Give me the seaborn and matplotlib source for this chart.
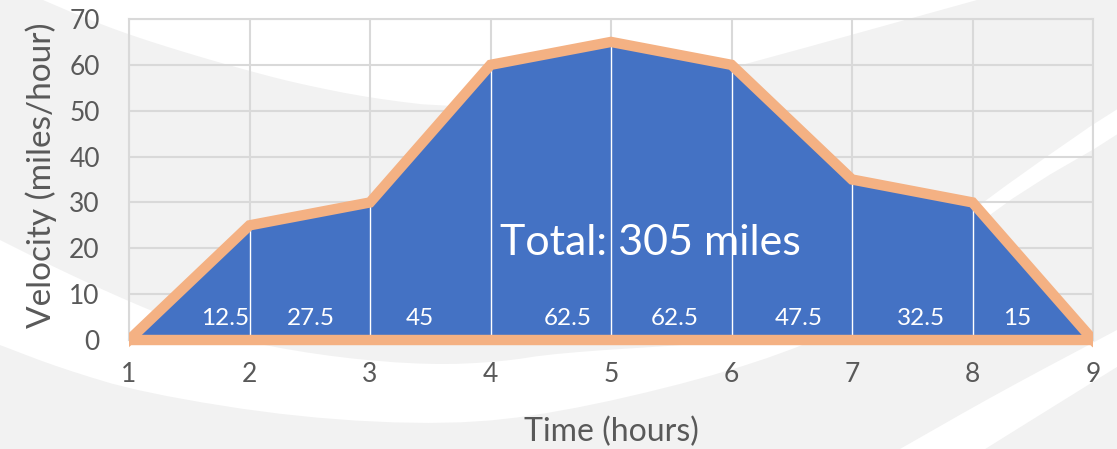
import matplotlib.pyplot as plt
import seaborn as sns
from matplotlib.patches import Polygon, Rectangle

# data
hours = [1, 2, 3, 4, 5, 6, 7, 8, 9]
velocity = [0, 25, 30, 60, 65, 60, 35, 30, 0]
segment_miles = [12.5, 27.5, 45, 62.5, 62.5, 47.5, 32.5, 15]
total_miles = 305
label_x = [1.80, 2.51, 3.41, 4.64, 5.53, 6.56, 7.57, 8.37]  # where each area label sits

BLUE = "#4472C4"
ORANGE = "#F4B183"
GRID = "#D9D9D9"
TEXT = "#595959"
BG = "#F2F2F2"

# white swooshes of the slide background (pixel coords, y down, running off the page)
swooshes = [
    [(1121, -40), (977, 0), (707, 75), (600, 100), (453, 108), (370, 98),
     (300, 84), (253, 72), (190, 54), (130, 35), (85, 18), (43, 0),
     (-27, -30), (-27, -60), (1121, -60)],
    [(-40, 220), (0, 240), (60, 270), (130, 302), (187, 325), (250, 343),
     (340, 358), (430, 365), (500, 362), (557, 353), (700, 344), (807, 335),
     (900, 270), (977, 205), (1160, 78), (1160, 111), (985, 212), (900, 300),
     (807, 345), (700, 380), (557, 413), (450, 425), (300, 418),
     (143, 393), (60, 368), (0, 345), (-40, 330)],
    [(920, 490), (985, 449), (1117, 367), (1160, 340), (1160, 307),
     (1117, 330), (1000, 392), (900, 449), (828, 490)],
]


def smooth(pts, rounds=2):
    # chaikin corner cutting, just to round the swoosh outlines
    for _ in range(rounds):
        out = []
        n = len(pts)
        for i in range(n):
            (x0, y0), (x1, y1) = pts[i], pts[(i + 1) % n]
            out.append((0.75 * x0 + 0.25 * x1, 0.75 * y0 + 0.25 * y1))
            out.append((0.25 * x0 + 0.75 * x1, 0.25 * y0 + 0.75 * y1))
        pts = out
    return pts


sns.set_theme(style="white")
plt.rcParams["font.family"] = ["Lato", "DejaVu Sans"]

fig = plt.figure(figsize=(11.17, 4.49), dpi=100)
fig.patch.set_facecolor(BG)

bg = fig.add_axes([0, 0, 1, 1], zorder=0)
bg.set_xlim(0, 1117)
bg.set_ylim(449, 0)
bg.axis("off")
for shape in swooshes:
    bg.add_patch(Polygon(smooth(shape), closed=True, facecolor="white", edgecolor="none"))

ax = fig.add_axes([129 / 1117, 1 - 340 / 449, 964 / 1117, 321 / 449], zorder=1)
ax.patch.set_alpha(0)

ax.fill_between(hours, velocity, color=BLUE, lw=0, zorder=2)
ax.vlines(hours[1:-1], 0, velocity[1:-1], colors="white", lw=1.0, zorder=3)

clip = Rectangle((hours[0], -3), hours[-1] - hours[0], 80, transform=ax.transData)
sns.lineplot(x=hours, y=velocity, ax=ax, color=ORANGE, lw=7.5, zorder=4,
             solid_joinstyle="miter", solid_capstyle="projecting")
ax.plot([hours[0], hours[-1]], [0, 0], color=ORANGE, lw=7.5, zorder=4,
        solid_capstyle="projecting")
for line in ax.lines:
    line.set_clip_path(clip)

for x, m in zip(label_x, segment_miles):
    ax.text(x, 3.2, f"{m:g}", color="white", fontsize=17.5,
            ha="center", va="baseline", zorder=5)
ax.text(4.08, 18.5, f"Total: {total_miles} miles", color="white", fontsize=31,
        ha="left", va="baseline", zorder=5)

ax.set_xlim(1, 9)
ax.set_ylim(0, 70)
ax.set_xticks(hours)
ax.set_yticks(range(0, 71, 10))
ax.grid(True, color=GRID, lw=1.5)
ax.set_axisbelow(True)
for side in ax.spines.values():
    side.set_color(GRID)
    side.set_linewidth(1.5)

ax.tick_params(axis="both", length=0, labelsize=19, colors=TEXT)
ax.tick_params(axis="x", pad=16)
ax.tick_params(axis="y", pad=21)

ax.set_xlabel("Time (hours)", fontsize=23, color=TEXT)
ax.xaxis.set_label_coords(0.5, -0.24)
ax.set_ylabel("Velocity (miles/hour)", fontsize=24, color=TEXT)
ax.yaxis.set_label_coords(-0.075, 0.514)

fig.savefig("out.png", dpi=100, facecolor=fig.get_facecolor())
